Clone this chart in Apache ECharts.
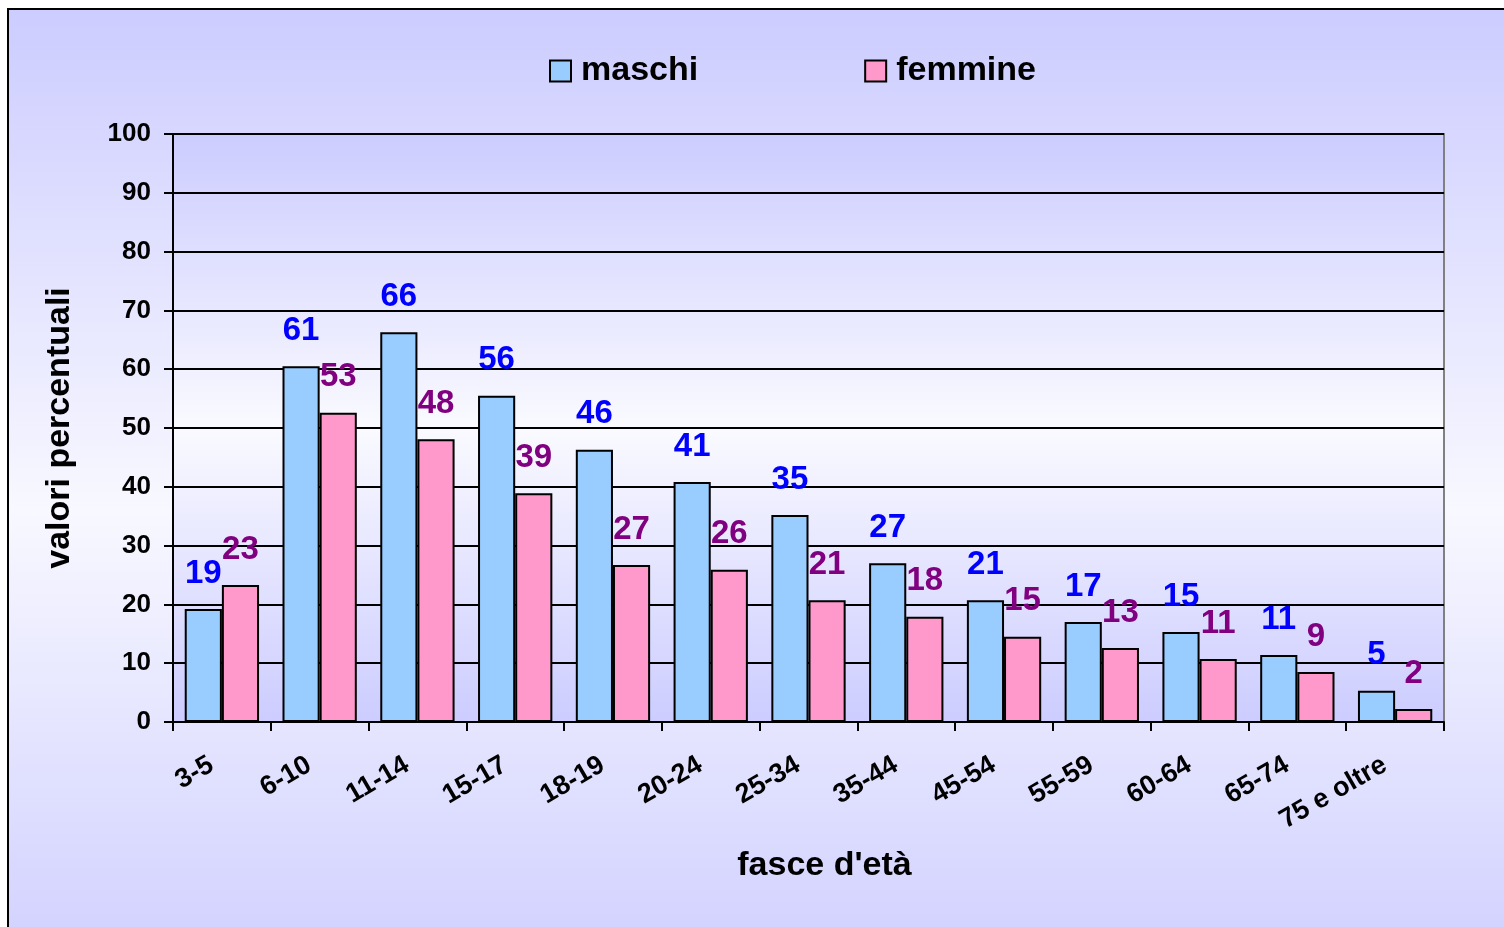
<!DOCTYPE html>
<html>
<head>
<meta charset="utf-8">
<title>fasce d'età</title>
<script src="https://cdn.jsdelivr.net/npm/echarts@6/dist/echarts.min.js"></script>
<style>
	html, body { margin: 0; padding: 0; background: #ffffff; }
	#chart { width: 1504px; height: 927px; }
</style>
</head>
<body>
<div id="chart"></div>
<script>
// fasce d'età
const categories = ['3-5', '6-10', '11-14', '15-17', '18-19', '20-24', '25-34', '35-44', '45-54', '55-59', '60-64', '65-74', '75 e oltre'];
// valori percentuali
const maschi = [19.2, 60.5, 66.3, 55.5, 46.3, 40.8, 35.2, 27.0, 20.7, 17.0, 15.3, 11.4, 5.3];
const femmine = [23.3, 52.6, 48.1, 38.9, 26.7, 25.9, 20.7, 17.9, 14.5, 12.6, 10.7, 8.5, 2.2];
const yTicks = [0, 10, 20, 30, 40, 50, 60, 70, 80, 90, 100];

const font = '"Liberation Sans", Arial, sans-serif';

let chartInstance = echarts.init(document.getElementById('chart'));

function barLabel(color) {
	return {
		show: true,
		position: 'top',
		distance: 19,
		color: color,
		fontFamily: font,
		fontWeight: 'bold',
		fontSize: 33,
		formatter: function (p) {
			return Math.round(p.value);
		}
	};
}

let option = {
	backgroundColor: '#ffffff',
	animation: false,
	graphic: [
		{
			// cornice esterna con sfumatura
			type: 'rect',
			z: -10,
			shape: { x: 8, y: 9, width: 1600, height: 1000 },
			style: {
				fill: new echarts.graphic.LinearGradient(0, 0, 0, 1, [
					{ offset: 0, color: '#ccccff' },
					{ offset: 0.5, color: '#f8f8ff' },
					{ offset: 1, color: '#ccccff' }
				]),
				stroke: '#000000',
				lineWidth: 2
			}
		}
	],
	legend: {
		left: 544,
		top: 49,
		itemWidth: 21,
		itemHeight: 21,
		itemGap: 166,
		icon: 'rect',
		textStyle: {
			fontFamily: font,
			fontWeight: 'bold',
			fontSize: 34,
			color: '#000000',
			padding: [0, 0, 0, 5]
		},
		data: ['maschi', 'femmine']
	},
	grid: {
		left: 173,
		right: 60,
		top: 134,
		bottom: 205,
		show: true,
		borderColor: '#808080',
		borderWidth: 2,
		backgroundColor: new echarts.graphic.LinearGradient(0, 0, 0, 1, [
			{ offset: 0, color: '#ccccff' },
			{ offset: 0.5, color: '#fafaff' },
			{ offset: 1, color: '#ccccff' }
		])
	},
	xAxis: {
		type: 'category',
		data: categories,
		name: "fasce d'età",
		nameLocation: 'middle',
		nameGap: 127,
		nameTextStyle: {
			fontFamily: font,
			fontWeight: 'bold',
			fontSize: 34,
			color: '#000000',
			padding: [0, 0, 0, 32]
		},
		axisLine: { lineStyle: { color: '#000000', width: 2 } },
		axisTick: { show: true, length: 9, lineStyle: { color: '#000000', width: 2 } },
		axisLabel: {
			interval: 0,
			rotate: 30,
			margin: 35,
			padding: [0, 12, 0, 0],
			fontFamily: font,
			fontWeight: 'bold',
			fontSize: 27,
			color: '#000000'
		}
	},
	yAxis: {
		type: 'value',
		min: yTicks[0],
		max: yTicks[yTicks.length - 1],
		interval: yTicks[1] - yTicks[0],
		name: 'valori percentuali',
		nameLocation: 'middle',
		nameGap: 96,
		nameTextStyle: {
			fontFamily: font,
			fontWeight: 'bold',
			fontSize: 34,
			color: '#000000'
		},
		axisLine: { show: true, lineStyle: { color: '#000000', width: 2 } },
		axisTick: { show: true, length: 9, lineStyle: { color: '#000000', width: 2 } },
		splitLine: { lineStyle: { color: '#000000', width: 2 } },
		axisLabel: {
			margin: 22,
			fontFamily: font,
			fontWeight: 'bold',
			fontSize: 26,
			color: '#000000'
		}
	},
	series: [
		{
			name: 'maschi',
			type: 'bar',
			data: maschi,
			barGap: '0%',
			barCategoryGap: '24%',
			itemStyle: { color: '#99ccff', borderColor: '#000000', borderWidth: 2 },
			label: barLabel('#0000ff')
		},
		{
			name: 'femmine',
			type: 'bar',
			data: femmine,
			barGap: '0%',
			barCategoryGap: '24%',
			itemStyle: { color: '#ff99cc', borderColor: '#000000', borderWidth: 2 },
			label: barLabel('#800080')
		}
	]
};

chartInstance.setOption(option);
</script>
</body>
</html>
